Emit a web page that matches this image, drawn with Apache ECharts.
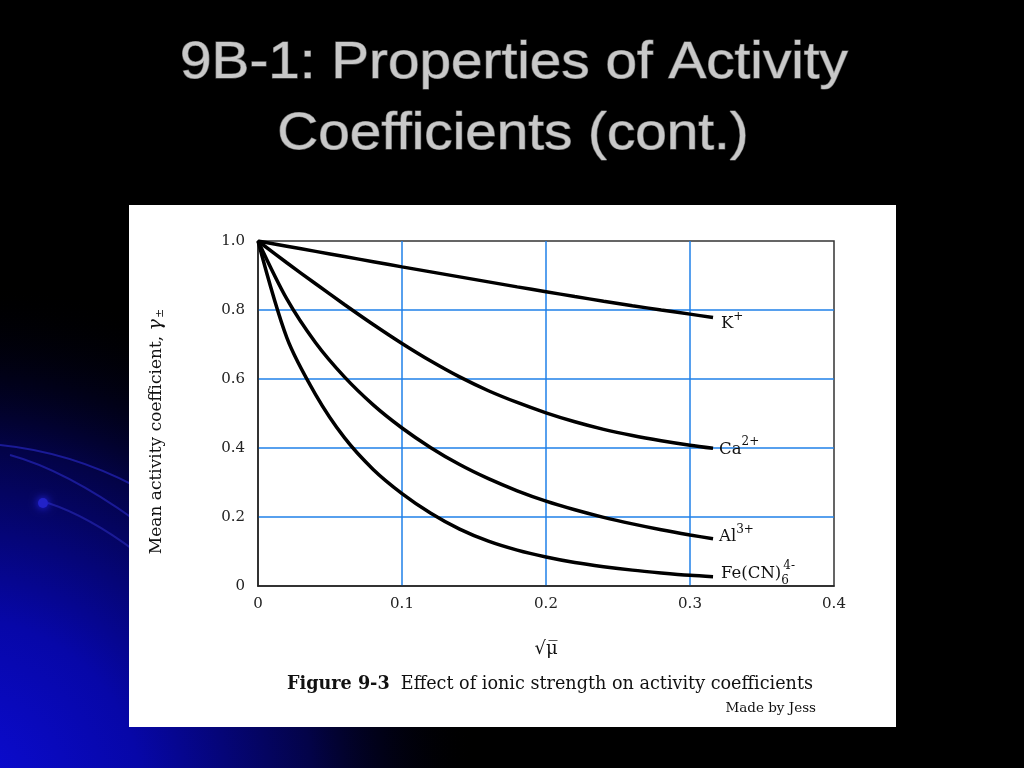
<!DOCTYPE html>
<html>
<head>
<meta charset="utf-8">
<script src="https://cdn.jsdelivr.net/npm/echarts@6/dist/echarts.min.js"></script>
<style>
html,body{margin:0;padding:0;background:#000;}
#chart{width:1024px;height:768px;}
</style>
</head>
<body>
<div id="chart"></div>
<script>
// ---- data ----
const xValues  = [0, 0.02, 0.04, 0.06, 0.08, 0.1, 0.12, 0.14, 0.16, 0.18, 0.2, 0.22, 0.24, 0.26, 0.28, 0.3, 0.316];
const kValues  = [1.0, 0.985, 0.970, 0.955, 0.940, 0.925, 0.9105, 0.896, 0.8815, 0.867, 0.853, 0.839, 0.8255, 0.8125, 0.800, 0.788, 0.778];
const caValues = [1.0, 0.937, 0.876, 0.816, 0.758, 0.703, 0.652, 0.606, 0.566, 0.532, 0.502, 0.476, 0.454, 0.436, 0.421, 0.408, 0.399];
const alValues = [1.0, 0.832, 0.705, 0.606, 0.525, 0.458, 0.401, 0.352, 0.311, 0.276, 0.246, 0.221, 0.199, 0.180, 0.163, 0.148, 0.137];
const feValues = [1.0, 0.720, 0.555, 0.430, 0.338, 0.268, 0.211, 0.165, 0.130, 0.104, 0.084, 0.068, 0.056, 0.046, 0.038, 0.031, 0.027];
const xTicks = [0, 0.1, 0.2, 0.3, 0.4];
const yTicks = [0, 0.2, 0.4, 0.6, 0.8, 1.0];

const pairs = vals => xValues.map((x, i) => [x, vals[i]]);

const serif = 'DejaVu Serif';
const richSup = {
  sup: {fontSize: 12, fontFamily: serif, color: '#111', padding: [0, 0, 14, 0]},
  sub: {fontSize: 12, fontFamily: serif, color: '#111', padding: [14, 0, 0, 0], width: 0},
  sup2: {fontSize: 12, fontFamily: serif, color: '#111', padding: [0, 0, 16, 2]}
};

function lineSeries(name, vals, label, offset) {
  return {
    name: name,
    type: 'line',
    data: pairs(vals),
    smooth: 0.3,
    symbol: 'none',
    lineStyle: {color: '#000', width: 3.5},
    endLabel: {
      show: true,
      formatter: label,
      color: '#111',
      fontFamily: serif,
      fontSize: 16.5,
      distance: 6,
      offset: offset,
      rich: richSup
    },
    emphasis: {disabled: true},
    silent: true
  };
}

const titleStyle = {fontFamily: 'Liberation Sans', fontSize: 52,
  fill: '#c8c8c8', align: 'center', verticalAlign: 'middle',
  stroke: '#6a6a6a', lineWidth: 1.2,
  shadowColor: 'rgba(90,90,90,0.9)', shadowOffsetX: 2, shadowOffsetY: 2, shadowBlur: 1};

const chart = echarts.init(document.getElementById('chart'));
chart.setOption({
  backgroundColor: '#000',
  animation: false,
  graphic: [
    {type: 'rect', shape: {x: 0, y: 0, width: 1024, height: 768}, z: -10,
     style: {fill: {type: 'radial', x: -40, y: 800, r: 520, global: true,
       colorStops: [{offset: 0, color: '#0c0cd8'}, {offset: 0.35, color: '#0707a8'}, {offset: 0.68, color: '#030348'}, {offset: 1, color: 'rgba(0,0,0,0)'}]}}},
    {type: 'bezierCurve', z: -9, shape: {x1: 0, y1: 445, cpx1: 70, cpy1: 452, x2: 135, y2: 486},
     style: {stroke: '#1a1a96', lineWidth: 2, fill: null}},
    {type: 'bezierCurve', z: -9, shape: {x1: 10, y1: 455, cpx1: 65, cpy1: 470, x2: 135, y2: 520},
     style: {stroke: '#1a1a96', lineWidth: 2, fill: null}},
    {type: 'bezierCurve', z: -9, shape: {x1: 48, y1: 503, cpx1: 88, cpy1: 516, x2: 135, y2: 551},
     style: {stroke: '#1a1a96', lineWidth: 2, fill: null}},
    {type: 'circle', z: -9, shape: {cx: 43, cy: 503, r: 5},
     style: {fill: '#2222c8', shadowBlur: 8, shadowColor: '#2a2aff'}},
    {type: 'rect', z: -5, shape: {x: 129, y: 205, width: 767, height: 522}, style: {fill: '#fff'}},
    {type: 'text', x: 514, y: 64, scaleX: 1.09, originX: 0, z: 5,
     style: Object.assign({text: '9B-1: Properties of Activity'}, titleStyle)},
    {type: 'text', x: 513, y: 135, scaleX: 1.09, originX: 0, z: 5,
     style: Object.assign({text: 'Coefficients (cont.)'}, titleStyle)},
    {type: 'text', x: 550, y: 684, z: 5,
     style: {text: '{b|Figure 9-3}  Effect of ionic strength on activity coefficients',
       fontFamily: serif, fontSize: 17.6, fill: '#111', align: 'center', verticalAlign: 'middle',
       rich: {b: {fontFamily: serif, fontWeight: 'bold', fontSize: 17.6, fill: '#111'}}}},
    {type: 'text', x: 816, y: 708, z: 5,
     style: {text: 'Made by Jess', fontFamily: serif, fontSize: 13.5, fill: '#111',
       align: 'right', verticalAlign: 'middle'}}
  ],
  grid: {left: 258, top: 241, width: 576, height: 345, show: true,
         borderColor: '#333', borderWidth: 1.5, backgroundColor: 'transparent'},
  xAxis: {
    type: 'value', min: 0, max: 0.4, interval: 0.1,
    name: '√μ̅', nameLocation: 'middle', nameGap: 54,
    nameTextStyle: {fontFamily: serif, fontSize: 18, color: '#111'},
    axisLine: {show: true, lineStyle: {color: '#222', width: 1.5}},
    axisTick: {show: false},
    axisLabel: {margin: 11, fontFamily: serif, fontSize: 15, color: '#222',
      formatter: v => { const t = xTicks.find(a => Math.abs(a - v) < 1e-9); return t === 0 ? '0' : t.toFixed(1); }},
    splitLine: {show: true, showMinLine: false, showMaxLine: false,
      lineStyle: {color: '#1f80e8', width: 1.5}}
  },
  yAxis: {
    type: 'value', min: 0, max: 1.0, interval: 0.2,
    name: 'Mean activity coefficient, {g|γ}{pm|±}', nameLocation: 'middle', nameGap: 92,
    nameTextStyle: {fontFamily: serif, fontSize: 17, color: '#111', padding: [0, 36, 0, 0],
      rich: {g: {fontFamily: serif, fontSize: 19, fontStyle: 'italic', color: '#111'},
             pm: {fontFamily: serif, fontSize: 11, color: '#111', padding: [8, 0, 0, 1]}}},
    axisLine: {show: true, lineStyle: {color: '#222', width: 1.5}},
    axisTick: {show: false},
    axisLabel: {margin: 13, fontFamily: serif, fontSize: 15, color: '#222',
      formatter: v => { const t = yTicks.find(a => Math.abs(a - v) < 1e-9); return t === 0 ? '0' : t.toFixed(1); }},
    splitLine: {show: true, showMinLine: false, showMaxLine: false,
      lineStyle: {color: '#1f80e8', width: 1.5}}
  },
  series: [
    lineSeries('K+', kValues, 'K{sup|+}', [2, 6]),
    lineSeries('Ca2+', caValues, 'Ca{sup|2+}', [0, 1]),
    lineSeries('Al3+', alValues, 'Al{sup|3+}', [0, -2]),
    lineSeries('Fe(CN)6 4-', feValues, 'Fe(CN){sub|6}{sup2|4-}', [2, -3])
  ]
});
</script>
</body>
</html>
